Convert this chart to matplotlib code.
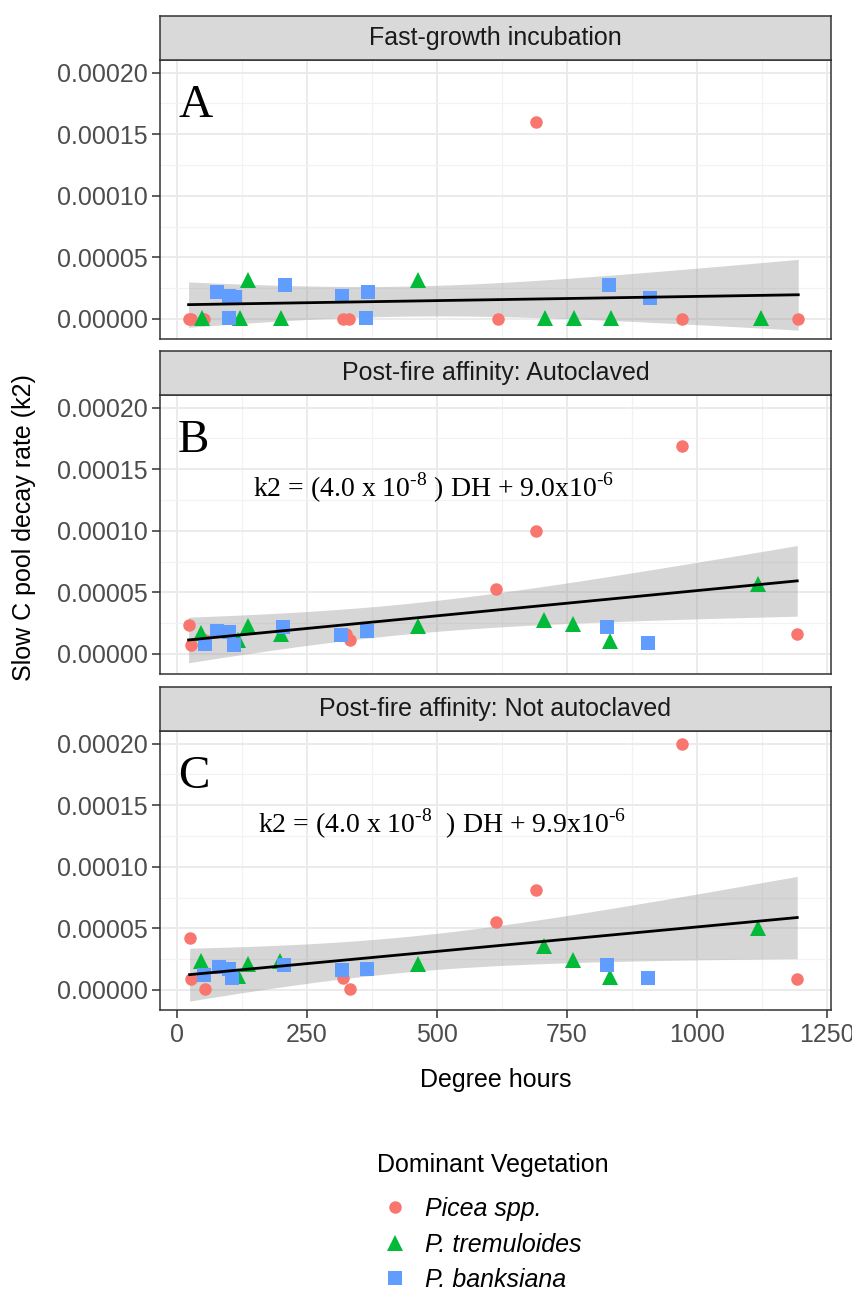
"""
Slow C pool decay rate (k2) against degree hours, three incubation panels
"""

import numpy as np
import matplotlib.pyplot as plt
from matplotlib.lines import Line2D
from matplotlib.ticker import MultipleLocator, StrMethodFormatter

plt.rcParams["font.family"] = "Liberation Sans"
plt.rcParams["mathtext.fontset"] = "custom"
plt.rcParams["mathtext.rm"] = "Liberation Serif"

# ---- data ----
panel_titles = [
    "Fast-growth incubation",
    "Post-fire affinity: Autoclaved",
    "Post-fire affinity: Not autoclaved",
]
panel_letters = ["A", "B", "C"]
equations = [
    None,
    r"k2 = (4.0 x 10$^{\text{-8}}$ ) DH + 9.0x10$^{\text{-6}}$",
    r"k2 = (4.0 x 10$^{\text{-8}}$  ) DH + 9.9x10$^{\text{-6}}$",
]

species = ["Picea spp.", "P. tremuloides", "P. banksiana"]
colors = ["#F8766D", "#00BA38", "#619CFF"]
markers = ["o", "^", "s"]
marker_sizes = [9, 11, 9.5]

# panel A - fast-growth incubation
a_picea_dh = [22, 27, 52, 320, 330, 617, 690, 971, 1195]
a_picea_k2 = [0, 0, 0, 0, 0, 0, 0.000160, 0, 0]
a_trem_dh = [48, 120, 137, 200, 464, 707, 763, 835, 1123]
a_trem_k2 = [0.000001, 0.000001, 0.000032, 0.000001, 0.000032,
             0.000001, 0.000001, 0.000001, 0.000001]
a_bank_dh = [77, 100, 100, 111, 207, 318, 364, 368, 831, 910]
a_bank_k2 = [0.0000216, 0.0000189, 0.0000005, 0.0000176, 0.0000278,
             0.0000186, 0.0000005, 0.0000216, 0.0000278, 0.0000170]

# panel B - autoclaved
b_picea_dh = [22, 27, 54, 324, 332, 614, 690, 971, 1193]
b_picea_k2 = [0.0000235, 0.0000073, 0.0000114, 0.0000165, 0.0000110,
              0.0000525, 0.000100, 0.000169, 0.0000162]
b_trem_dh = [45, 117, 136, 200, 463, 705, 761, 832, 1118]
b_trem_k2 = [0.0000173, 0.0000110, 0.0000227, 0.0000165, 0.0000230,
             0.0000276, 0.0000244, 0.0000108, 0.0000568]
b_bank_dh = [54, 77, 100, 110, 204, 316, 365, 827, 906]
b_bank_k2 = [0.0000081, 0.0000185, 0.0000175, 0.0000073, 0.0000222,
             0.0000154, 0.0000188, 0.0000222, 0.0000087]

# panel C - not autoclaved
c_picea_dh = [24, 27, 54, 320, 332, 613, 690, 971, 1193]
c_picea_k2 = [0.0000425, 0.0000087, 0.0000011, 0.0000093, 0.0000011,
              0.0000552, 0.000081, 0.000200, 0.0000087]
c_trem_dh = [46, 118, 137, 197, 464, 705, 761, 832, 1118]
c_trem_k2 = [0.0000235, 0.0000111, 0.0000214, 0.0000235, 0.0000209,
             0.0000355, 0.0000241, 0.0000106, 0.0000499]
c_bank_dh = [51, 80, 99, 106, 205, 317, 365, 827, 906]
c_bank_k2 = [0.0000120, 0.0000187, 0.0000174, 0.0000093, 0.0000200,
             0.0000160, 0.0000174, 0.0000200, 0.0000093]

panels = [
    [(a_picea_dh, a_picea_k2), (a_trem_dh, a_trem_k2), (a_bank_dh, a_bank_k2)],
    [(b_picea_dh, b_picea_k2), (b_trem_dh, b_trem_k2), (b_bank_dh, b_bank_k2)],
    [(c_picea_dh, c_picea_k2), (c_trem_dh, c_trem_k2), (c_bank_dh, c_bank_k2)],
]

T_CRIT = 2.06  # t(0.975, ~25 df) for the 95% band


def lm_band(x, y, npts=80):
    """Straight-line fit with 95% confidence band, like geom_smooth(method='lm')"""
    x = np.asarray(x, float)
    y = np.asarray(y, float)
    n = len(x)
    slope, intercept = np.polyfit(x, y, 1)
    resid = y - (slope * x + intercept)
    s = np.sqrt(np.sum(resid ** 2) / (n - 2))
    sxx = np.sum((x - x.mean()) ** 2)
    xs = np.linspace(x.min(), x.max(), npts)
    fit = slope * xs + intercept
    se = s * np.sqrt(1.0 / n + (xs - x.mean()) ** 2 / sxx)
    return xs, fit, fit - T_CRIT * se, fit + T_CRIT * se


W, H = 853, 1292
fig = plt.figure(figsize=(W / 100, H / 100), dpi=100)

ax_left, ax_right = 160, 831
panel_tops = [60, 395, 731]
panel_h = 279
strip_h = 44

for i, groups in enumerate(panels):
    top = panel_tops[i]
    ax = fig.add_axes([ax_left / W, 1 - (top + panel_h) / H,
                       (ax_right - ax_left) / W, panel_h / H])
    strip = fig.add_axes([ax_left / W, 1 - top / H,
                          (ax_right - ax_left) / W, strip_h / H])

    # strip header
    strip.set_facecolor("#D9D9D9")
    strip.set_xticks([])
    strip.set_yticks([])
    for sp in strip.spines.values():
        sp.set_color("#333333")
        sp.set_linewidth(1.1)
    strip.text(0.5, 0.5, panel_titles[i], ha="center", va="center",
               fontsize=18, color="#1A1A1A", transform=strip.transAxes)

    # data points
    all_x, all_y = [], []
    for (dh, k2), col, mk, ms in zip(groups, colors, markers, marker_sizes):
        ax.plot(dh, k2, linestyle="none", marker=mk, markersize=ms,
                color=col, markeredgewidth=0, zorder=3)
        all_x += list(dh)
        all_y += list(k2)

    # linear fit and band
    xs, fit, lo, hi = lm_band(all_x, all_y)
    ax.fill_between(xs, lo, hi, color="#999999", alpha=0.4, linewidth=0, zorder=2)
    ax.plot(xs, fit, color="black", linewidth=2, zorder=4)

    ax.set_xlim(-33, 1258)
    ax.set_ylim(-0.0000163, 0.0002103)
    ax.xaxis.set_major_locator(MultipleLocator(250))
    ax.xaxis.set_minor_locator(MultipleLocator(125))
    ax.yaxis.set_major_locator(MultipleLocator(0.00005))
    ax.yaxis.set_minor_locator(MultipleLocator(0.000025))
    ax.yaxis.set_major_formatter(StrMethodFormatter("{x:.5f}"))
    ax.grid(which="major", color="#EBEBEB", linewidth=1.4, zorder=0)
    ax.grid(which="minor", color="#F2F2F2", linewidth=0.9, zorder=0)
    ax.set_axisbelow(True)
    ax.tick_params(which="minor", length=0)
    ax.tick_params(which="major", length=5.5, width=1.1, color="#333333",
                   labelsize=18, labelcolor="#4D4D4D", pad=3.5)
    if i < 2:
        ax.tick_params(axis="x", which="major", length=0, labelbottom=False)
    for sp in ax.spines.values():
        sp.set_color("#333333")
        sp.set_linewidth(1.1)

    ax.text(0.027, 0.797, panel_letters[i], transform=ax.transAxes,
            fontsize=34, family="Liberation Serif", ha="left", va="baseline")
    if equations[i]:
        x0 = 0.1386 if i == 1 else 0.1458
        ax.text(x0, 0.6355, equations[i], transform=ax.transAxes,
                fontsize=20, family="Liberation Serif", ha="left", va="baseline")

fig.text(495.5 / W, 1 - 1080 / H, "Degree hours", ha="center", va="center",
         fontsize=18, color="black")
fig.text(24 / W, 1 - 528 / H, "Slow C pool decay rate (k2)", ha="center",
         va="center", rotation=90, fontsize=18, color="black")

# legend: title on its own, then the three keys
fig.text(377 / W, 1 - 1165 / H, "Dominant Vegetation", ha="left", va="center",
         fontsize=18, color="black")
handles = [Line2D([], [], linestyle="none", marker=mk, markersize=ms,
                  color=col, markeredgewidth=0)
           for col, mk, ms in zip(colors, markers, marker_sizes)]
fig.legend(handles, species, loc="upper left",
           bbox_to_anchor=(377 / W, 1 - 1197 / H), frameon=False,
           prop={"style": "italic", "size": 18}, labelspacing=0.46,
           handlelength=1.44, handletextpad=0.48, borderpad=0, borderaxespad=0)

fig.savefig("out.png", dpi=100)
